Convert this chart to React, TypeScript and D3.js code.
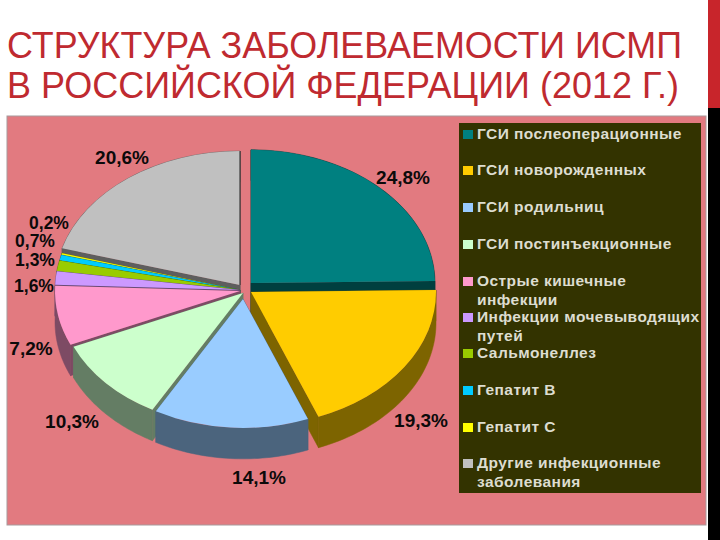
import React from 'react';
import * as d3 from 'd3';

const titleLines = ['СТРУКТУРА ЗАБОЛЕВАЕМОСТИ ИСМП', 'В РОССИЙСКОЙ ФЕДЕРАЦИИ (2012 Г.)'];
const categories = [
  ['ГСИ послеоперационные'],
  ['ГСИ новорожденных'],
  ['ГСИ родильниц'],
  ['ГСИ постинъекционные'],
  ['Острые кишечные', 'инфекции'],
  ['Инфекции мочевыводящих', 'путей'],
  ['Сальмонеллез'],
  ['Гепатит В'],
  ['Гепатит С'],
  ['Другие инфекционные', 'заболевания'],
];
const values = [24.8, 19.3, 14.1, 10.3, 7.2, 1.6, 1.3, 0.7, 0.2, 20.6];
const colors = ['#008080', '#FFCC00', '#99CCFF', '#CCFFCC', '#FF99CC', '#CC99FF', '#99CC00', '#00CCFF', '#FFFF00', '#C0C0C0'];

// how far each slice is pulled away from the pie centre
const explode: [number, number][] = [[11, -2], [11, 7], [3, 14], [3, 8], [0, 6], [0, 5], [0, 5], [0, 5], [0, 5], [0, 0]];
// the blue slice is drawn a bit smaller in the original
const radii = [184, 185, 178, 185, 185, 185, 185, 185, 185, 185];
// label centres, placed by hand like in the original
const labelPos: [number, number][] = [[403, 177], [421, 420], [259, 477], [72, 421], [31, 348], [34, 286], [35, 260], [35, 241], [49, 223], [122, 157]];
const legendY = [134, 170, 207, 244, 281, 317, 353, 390, 427, 463];

const cx = 240;
const cy = 285;
const tilt = 0.724;
const depth = 31;

const pie = d3.pie<number>().sort(null).startAngle(0).endAngle(2 * Math.PI);
const arc = d3.arc<d3.PieArcDatum<number>>().innerRadius(0);
const lineGen = d3.line();

const fmt = (v: number) => v.toFixed(1).replace('.', ',') + '%';

const edgePoint = (a: number, r: number): [number, number] => [r * Math.sin(a), -r * tilt * Math.cos(a)];

const wallPaths = (d: d3.PieArcDatum<number>, r: number) => {
  const n = 40;
  const outer = d3.range(n + 1).map(i => edgePoint(d.startAngle + (d.endAngle - d.startAngle) * i / n, r));
  const down = (p: [number, number]): [number, number] => [p[0], p[1] + depth];
  const quad = (p: [number, number]) => lineGen([[0, 0], p, down(p), [0, depth]]) + 'Z';
  return [
    quad(outer[0]),
    quad(outer[n]),
    lineGen([...outer, ...outer.map(down).reverse()]) + 'Z',
  ];
};

export default function App() {
  const slices = pie(values);
  // painter's order: slices nearest the viewer go last
  const order = d3.range(slices.length).sort((a, b) => {
    const dist = (i: number) => Math.abs((slices[i].startAngle + slices[i].endAngle) / 2 - Math.PI);
    return dist(b) - dist(a);
  });
  const topEdge = edgePoint(0, radii[9]);

  return (
    <svg width={720} height={540} style={{ position: 'absolute', left: 0, top: 0, background: '#fff' }}>
      <rect x={708} y={0} width={12} height={108} fill="#C8252B" />
      <rect x={708} y={108} width={12} height={432} fill="#000" />

      {titleLines.map((t, i) => (
        <text key={i} x={7} y={58 + i * 40} fontFamily="Liberation Sans" fontSize={36} fill="#BF2A30"
          textLength={i === 0 ? 675 : 672} lengthAdjust="spacingAndGlyphs">{t}</text>
      ))}

      <rect x={7} y={116} width={699} height={409} fill="#E27A80" stroke="#A89A9C" strokeWidth={1} />

      {order.map(i => {
        const s = slices[i];
        const [ex, ey] = explode[i];
        const wall = d3.rgb(colors[i]).darker(2).toString();
        return (
          <g key={i} transform={`translate(${cx + ex},${cy + ey})`}>
            {wallPaths(s, radii[i]).map((p, k) => <path key={k} d={p} fill={wall} stroke={wall} strokeWidth={0.5} />)}
            <g transform={`scale(1,${tilt})`}>
              <path d={arc.outerRadius(radii[i])(s) as string} fill={colors[i]} />
            </g>
          </g>
        );
      })}
      <path d={lineGen([[cx, cy], [cx + topEdge[0], cy + topEdge[1]]]) as string} stroke="#222" strokeWidth={1} />

      {values.map((v, i) => (
        <text key={i} x={labelPos[i][0]} y={labelPos[i][1]} dy="0.36em" textAnchor="middle"
          fontFamily="Liberation Sans" fontWeight="bold" fontSize={i >= 5 && i <= 8 ? 17.5 : 19} fill="#0C0A0A">{fmt(v)}</text>
      ))}

      <rect x={459} y={123} width={242} height={370} fill="#333300" />
      {categories.map((lines, i) => (
        <g key={i}>
          <rect x={463} y={legendY[i] - 4} width={10} height={9} fill={colors[i]} />
          {lines.map((l, k) => (
            <text key={k} x={477} y={legendY[i] - 1 + k * 19} dy="0.36em" fontFamily="Liberation Sans" fontWeight="bold"
              fontSize={15.5} letterSpacing={0.45} fill="#DDDDD0">{l}</text>
          ))}
        </g>
      ))}
    </svg>
  );
}
